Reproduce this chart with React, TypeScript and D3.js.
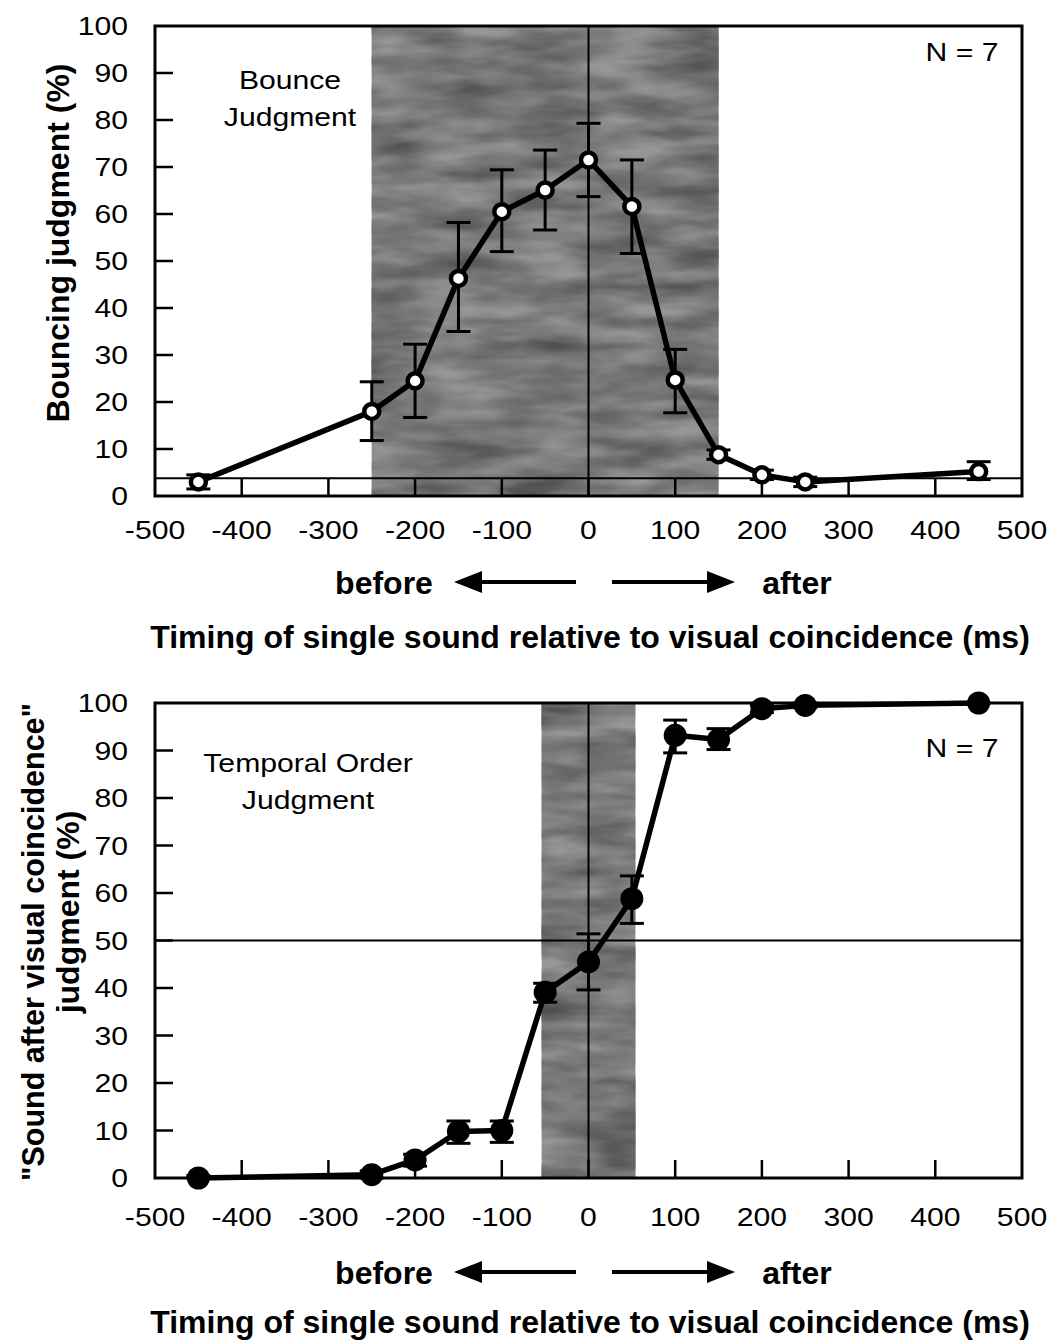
import React from 'react';
import * as d3 from 'd3';

// timing of the sound (ms) and judgment percentages
const timing = [-450, -250, -200, -150, -100, -50, 0, 50, 100, 150, 200, 250, 450];

const bounceMean = [3, 18, 24.5, 46.3, 60.5, 65.1, 71.5, 61.6, 24.7, 8.8, 4.5, 3, 5.2];
const bounceLow = [1.5, 11.8, 16.7, 35, 52, 56.6, 63.7, 51.6, 17.7, 7.8, 3.5, 2, 3.5];
const bounceHigh = [4.5, 24.3, 32.3, 58.2, 69.4, 73.6, 79.3, 71.5, 31.2, 9.8, 5.5, 4, 7.3];

const tojMean = [0, 0.7, 3.8, 9.8, 10, 39.1, 45.5, 58.8, 93.2, 92.3, 98.8, 99.5, 100];
const tojLow = [0, 0, 2.5, 7.3, 7.5, 37, 39.6, 53.6, 89.5, 90.2, 98, 99, 100];
const tojHigh = [0.5, 1.5, 5, 12, 12, 41, 51.4, 63.6, 96.4, 94.6, 99.5, 100, 100];

const bounceBand = [-250, 150];
const tojBand = [-54, 54];
const bounceRef = 3.8;
const tojRef = 50;

const xTicks = d3.range(-500, 501, 100);
const yTicks = d3.range(0, 101, 10);

const FONT = '"Liberation Sans", Arial, Helvetica, sans-serif';
const STRETCH = 1.16;

// regular text in the scan is a bit wider than Helvetica, so stretch it
const Wide = ({ x, y, anchor = 'middle', size = 26, children }:
  { x: number; y: number; anchor?: string; size?: number; children: React.ReactNode }) => (
  <text transform={`translate(${x},${y}) scale(${STRETCH},1)`} dy="0.36em" textAnchor={anchor}
    fontSize={size} fontFamily={FONT}>{children}</text>
);

const Bold = ({ x, y, size = 32, children }: { x: number; y: number; size?: number; children: React.ReactNode }) => (
  <text x={x} y={y} dy="0.36em" textAnchor="middle" fontSize={size} fontWeight="bold" fontFamily={FONT}>{children}</text>
);

type PanelProps = {
  id: string;
  top: number;
  bottom: number;
  mean: number[];
  low: number[];
  high: number[];
  band: number[];
  refValue: number;
  filled: boolean;
  label: string[];
  labelX: number;
  labelY: number;
  nY: number;
  yTitle: string[];
  yTitleX: number[];
  yTitleY: number[];
  yTitleSize: number[];
  tickLabelY: number;
  arrowY: number;
  titleY: number;
};

const x = d3.scaleLinear().domain([-500, 500]).range([155, 1022]);

const Panel = (p: PanelProps) => {
  const y = d3.scaleLinear().domain([0, 100]).range([p.bottom, p.top]);
  const line = d3.line<number>()
    .x((d, i) => x(timing[i]))
    .y((d) => y(d));
  const x0 = x(-500);
  const x1 = x(500);
  const mid = x(0);
  const bx = x(p.band[0]);
  const bw = x(p.band[1]) - x(p.band[0]);

  return (
    <g>
      <defs>
        <filter id={`mottle-${p.id}`} x="0" y="0" width="1" height="1">
          <feTurbulence type="fractalNoise" baseFrequency="0.012 0.05" numOctaves="3" seed={p.id === 'a' ? 4 : 9} />
          <feColorMatrix type="matrix" values="0 0 0 0 0  0 0 0 0 0  0 0 0 0 0  0 0 0 -0.7 0.55" />
        </filter>
      </defs>

      {/* shaded window */}
      <rect x={bx} y={p.top} width={bw} height={p.bottom - p.top} fill="#969696" />
      <rect x={bx} y={p.top} width={bw} height={p.bottom - p.top} fill="#000" filter={`url(#mottle-${p.id})`} />

      {/* zero and reference lines */}
      <line x1={mid} x2={mid} y1={p.top} y2={p.bottom} stroke="#000" strokeWidth={2} />
      <line x1={x0} x2={x1} y1={y(p.refValue)} y2={y(p.refValue)} stroke="#000" strokeWidth={2} />

      {/* frame */}
      <rect x={x0} y={p.top} width={x1 - x0} height={p.bottom - p.top} fill="none" stroke="#000" strokeWidth={3} />

      {/* ticks inside */}
      {yTicks.slice(1, -1).map((t) => (
        <line key={`yt${t}`} x1={x0} x2={x0 + 18} y1={y(t)} y2={y(t)} stroke="#000" strokeWidth={2.5} />
      ))}
      {xTicks.slice(1, -1).map((t) => (
        <line key={`xt${t}`} x1={x(t)} x2={x(t)} y1={p.bottom} y2={p.bottom - 18} stroke="#000" strokeWidth={2.5} />
      ))}

      {/* tick labels */}
      {yTicks.map((t) => (
        <Wide key={`yl${t}`} x={128} y={y(t)} anchor="end">{t}</Wide>
      ))}
      {xTicks.map((t) => (
        <Wide key={`xl${t}`} x={x(t)} y={p.tickLabelY}>{t}</Wide>
      ))}

      {/* error bars */}
      {timing.map((t, i) => (
        <g key={`eb${t}`} stroke="#000" strokeWidth={3}>
          <line x1={x(t)} x2={x(t)} y1={y(p.low[i])} y2={y(p.high[i])} />
          <line x1={x(t) - 12} x2={x(t) + 12} y1={y(p.low[i])} y2={y(p.low[i])} />
          <line x1={x(t) - 12} x2={x(t) + 12} y1={y(p.high[i])} y2={y(p.high[i])} />
        </g>
      ))}

      {/* data line and markers */}
      <path d={line(p.mean) || ''} fill="none" stroke="#000" strokeWidth={5.5} strokeLinejoin="round" />
      {timing.map((t, i) => (
        p.filled
          ? <circle key={`pt${t}`} cx={x(t)} cy={y(p.mean[i])} r={11.5} fill="#000" />
          : <circle key={`pt${t}`} cx={x(t)} cy={y(p.mean[i])} r={7.5} fill="#fff" stroke="#000" strokeWidth={4.5} />
      ))}

      {/* annotations */}
      {p.label.map((s, i) => (
        <Wide key={s} x={p.labelX} y={p.labelY + i * 37}>{s}</Wide>
      ))}
      <Wide x={962} y={p.nY}>N = 7</Wide>

      {/* y axis title */}
      {p.yTitle.map((s, i) => (
        <text key={s} transform={`translate(${p.yTitleX[i]},${p.yTitleY[i]}) rotate(-90)`} dy="0.36em" textAnchor="middle"
          fontSize={p.yTitleSize[i]} fontWeight="bold" fontFamily={FONT}>{s}</text>
      ))}

      {/* before / after */}
      <Bold x={384} y={p.arrowY}>before</Bold>
      <line x1={576} x2={474} y1={p.arrowY} y2={p.arrowY} stroke="#000" strokeWidth={4} />
      <path d={`M${454},${p.arrowY} L${482},${p.arrowY - 11} L${482},${p.arrowY + 11} Z`} fill="#000" />
      <line x1={612} x2={714} y1={p.arrowY} y2={p.arrowY} stroke="#000" strokeWidth={4} />
      <path d={`M${735},${p.arrowY} L${707},${p.arrowY - 11} L${707},${p.arrowY + 11} Z`} fill="#000" />
      <Bold x={797} y={p.arrowY}>after</Bold>

      <Bold x={590} y={p.titleY}>Timing of single sound relative to visual coincidence (ms)</Bold>
    </g>
  );
};

const App = () => (
  <svg width={1062} height={1340} style={{ position: 'absolute', left: 0, top: 0, background: '#fff' }}>
    <rect width={1062} height={1340} fill="#fff" />
    <Panel
      id="a"
      top={26}
      bottom={496}
      mean={bounceMean}
      low={bounceLow}
      high={bounceHigh}
      band={bounceBand}
      refValue={bounceRef}
      filled={false}
      label={['Bounce', 'Judgment']}
      labelX={290}
      labelY={80}
      nY={52}
      yTitle={['Bouncing judgment (%)']}
      yTitleX={[57]}
      yTitleY={[243]}
      yTitleSize={[32]}
      tickLabelY={530}
      arrowY={582}
      titleY={636}
    />
    <Panel
      id="b"
      top={703}
      bottom={1178}
      mean={tojMean}
      low={tojLow}
      high={tojHigh}
      band={tojBand}
      refValue={tojRef}
      filled={true}
      label={['Temporal Order', 'Judgment']}
      labelX={308}
      labelY={763}
      nY={748}
      yTitle={['"Sound after visual coincidence"', 'judgment (%)']}
      yTitleX={[33, 67]}
      yTitleY={[942, 912]}
      yTitleSize={[30.5, 32]}
      tickLabelY={1217}
      arrowY={1272}
      titleY={1321}
    />
  </svg>
);

export default App;
